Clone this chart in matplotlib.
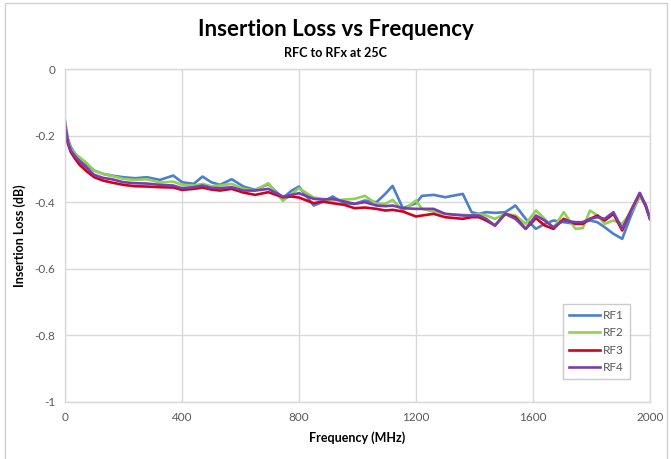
import matplotlib
matplotlib.use('Agg')
import matplotlib.pyplot as plt
import matplotlib.patches as mpatches

# ---------------------------------------------------------------------------
# Data
# ---------------------------------------------------------------------------
freq_mhz = [0, 5, 10, 20, 35, 50, 75, 100, 130, 160, 200, 240, 280, 325, 370,
            400, 440, 470, 500, 530, 570, 610, 650, 695, 745, 775, 800, 850,
            880, 915, 955, 990, 1025, 1065, 1095, 1120, 1155, 1200, 1220, 1260,
            1300, 1360, 1390, 1415, 1440, 1470, 1505, 1540, 1575, 1610, 1640,
            1670, 1705, 1745, 1770, 1795, 1820, 1845, 1875, 1905, 1935, 1965,
            1985, 2000]

rf1 = [-0.155, -0.185, -0.21, -0.235, -0.255, -0.27, -0.29, -0.305, -0.315,
       -0.32, -0.325, -0.328, -0.325, -0.333, -0.32, -0.34, -0.345, -0.323,
       -0.34, -0.348, -0.331, -0.353, -0.363, -0.346, -0.388, -0.365, -0.353,
       -0.41, -0.40, -0.383, -0.403, -0.405, -0.395, -0.40, -0.375, -0.351,
       -0.418, -0.403, -0.381, -0.378, -0.385, -0.375, -0.43, -0.435, -0.43,
       -0.432, -0.43, -0.41, -0.45, -0.48, -0.465, -0.455, -0.46, -0.465,
       -0.46, -0.455, -0.46, -0.475, -0.495, -0.51, -0.44, -0.38, -0.41, -0.45]

rf2 = [-0.16, -0.19, -0.215, -0.24, -0.255, -0.265, -0.283, -0.305, -0.315,
       -0.321, -0.33, -0.333, -0.331, -0.341, -0.338, -0.348, -0.35, -0.345,
       -0.352, -0.35, -0.345, -0.36, -0.365, -0.343, -0.396, -0.375, -0.358,
       -0.386, -0.39, -0.395, -0.392, -0.39, -0.381, -0.405, -0.405, -0.393,
       -0.425, -0.395, -0.42, -0.428, -0.435, -0.438, -0.44, -0.435, -0.44,
       -0.45, -0.435, -0.44, -0.465, -0.425, -0.45, -0.478, -0.43, -0.48,
       -0.478, -0.425, -0.44, -0.465, -0.455, -0.465, -0.43, -0.385, -0.405,
       -0.45]

rf3 = [-0.17, -0.2, -0.225, -0.25, -0.27, -0.288, -0.308, -0.325, -0.335,
       -0.341, -0.348, -0.352, -0.353, -0.355, -0.356, -0.363, -0.36, -0.356,
       -0.362, -0.365, -0.36, -0.371, -0.378, -0.37, -0.385, -0.383, -0.386,
       -0.403, -0.398, -0.403, -0.408, -0.418, -0.416, -0.42, -0.425, -0.423,
       -0.428, -0.443, -0.44, -0.435, -0.445, -0.45, -0.445, -0.445, -0.455,
       -0.47, -0.435, -0.445, -0.48, -0.448, -0.47, -0.48, -0.45, -0.465,
       -0.465, -0.45, -0.44, -0.455, -0.435, -0.485, -0.425, -0.373, -0.41,
       -0.45]

rf4 = [-0.165, -0.195, -0.22, -0.245, -0.262, -0.278, -0.298, -0.318, -0.327,
       -0.331, -0.34, -0.343, -0.344, -0.348, -0.35, -0.358, -0.355, -0.35,
       -0.357, -0.358, -0.355, -0.365, -0.365, -0.36, -0.383, -0.378, -0.373,
       -0.39, -0.392, -0.39, -0.398, -0.405, -0.40, -0.41, -0.412, -0.41,
       -0.418, -0.42, -0.42, -0.42, -0.435, -0.44, -0.44, -0.44, -0.45,
       -0.47, -0.435, -0.45, -0.48, -0.44, -0.455, -0.475, -0.455, -0.46,
       -0.46, -0.45, -0.445, -0.45, -0.43, -0.48, -0.425, -0.372, -0.41, -0.45]

series_names = ['RF1', 'RF2', 'RF3', 'RF4']
x_ticks = [0, 400, 800, 1200, 1600, 2000]
y_ticks = [0, -0.2, -0.4, -0.6, -0.8, -1]
y_tick_labels = ['0', '-0.2', '-0.4', '-0.6', '-0.8', '-1']

# ---------------------------------------------------------------------------
# Style
# ---------------------------------------------------------------------------
COLORS = ['#4a7fd0', '#92d050', '#d0021b', '#7a3db0']
GRID = '#d9d9d9'
TICK = '#595959'
FONT = ['Lato', 'DejaVu Sans']
plt.rcParams['font.family'] = FONT

fig = plt.figure(figsize=(6.71, 4.59), dpi=100)
fig.patch.set_facecolor('white')
ax = fig.add_axes([65/671, 1 - 402/459, 585/671, 333/459])

for name, vals, col in zip(series_names, [rf1, rf2, rf3, rf4], COLORS):
    ax.plot(freq_mhz, vals, color=col, linewidth=1.9, label=name,
            solid_joinstyle='round')

ax.set_xlim(0, 2000)
ax.set_ylim(-1, 0)
ax.set_xticks(x_ticks)
ax.set_yticks(y_ticks)
ax.set_yticklabels(y_tick_labels)
ax.tick_params(length=0, labelsize=8.5, colors=TICK, pad=7)
ax.grid(True, color=GRID, linewidth=1)
ax.set_axisbelow(True)
for sp in ax.spines.values():
    sp.set_color(GRID)
    sp.set_linewidth(1)

ax.set_xlabel('Frequency (MHz)', fontsize=9, fontweight='bold', labelpad=6)
ax.set_ylabel('Insertion Loss (dB)', fontsize=9, fontweight='bold', labelpad=6)

fig.text(0.5, 1 - 30/459, 'Insertion Loss vs Frequency', fontsize=16,
         fontweight='bold', ha='center', va='center')
fig.text(0.5, 1 - 53/459, 'RFC to RFx at 25C', fontsize=9,
         fontweight='bold', ha='center', va='center')

leg = ax.legend(loc='upper left', bbox_to_anchor=(557/671, 1 - 298/459),
                bbox_transform=fig.transFigure, fontsize=8.5, frameon=True,
                fancybox=False, edgecolor='#bfbfbf', handlelength=2.6,
                labelspacing=0.55, borderpad=0.5, handletextpad=0.3)
leg.get_frame().set_linewidth(1)
for t in leg.get_texts():
    t.set_color(TICK)

# outer chart border
fig.patches.append(mpatches.Rectangle((5/671, -0.01), 662/671, 1.0 - 3/459 + 0.01,
                                      transform=fig.transFigure, fill=False,
                                      edgecolor='#d0d0d0', linewidth=1))

fig.savefig('out.png', dpi=100, facecolor='white')
